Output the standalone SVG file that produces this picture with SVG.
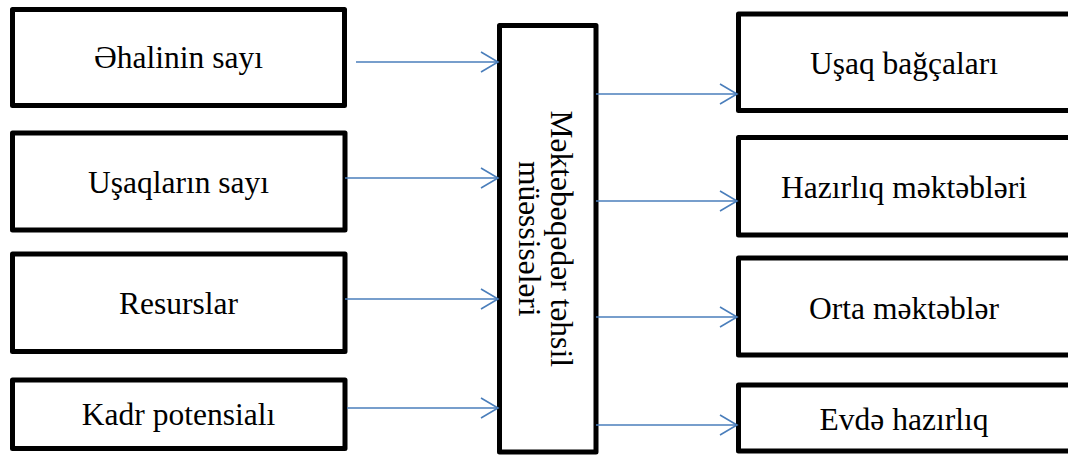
<svg xmlns="http://www.w3.org/2000/svg" width="1068" height="455" viewBox="0 0 1068 455">
<style>
.box{fill:#fff;stroke:#000;stroke-width:5;stroke-linejoin:round}
.lbl{font-family:"Liberation Serif","Times New Roman",serif;font-size:31.5px;fill:#000;text-anchor:middle}
.con{stroke:#4A7EBB;stroke-width:1.6;fill:none;marker-end:url(#arr)}
</style>
<defs>
<marker id="arr" markerUnits="userSpaceOnUse" markerWidth="22" markerHeight="24" viewBox="-19 -12 22 24" refX="0" refY="0" orient="auto" overflow="visible">
<path d="M-17,-10 L0,0 L-17,10" fill="none" stroke="#4A7EBB" stroke-width="1.6"/>
</marker>
</defs>
<rect width="1068" height="455" fill="#fff"/>
<g id="n-ehalinin">
<rect class="box" x="12.5" y="9.5" width="332" height="96"/>
<text class="lbl" x="178.5" y="68">Əhalinin sayı</text>
</g>
<g id="n-usaqlarin">
<rect class="box" x="12.5" y="133" width="332.5" height="97"/>
<text class="lbl" x="178.5" y="192.5">Uşaqların sayı</text>
</g>
<g id="n-resurslar">
<rect class="box" x="12.5" y="254" width="332.5" height="97.5"/>
<text class="lbl" x="178.5" y="314">Resurslar</text>
</g>
<g id="n-kadr">
<rect class="box" x="12.5" y="380" width="332.5" height="68.5"/>
<text class="lbl" x="178.5" y="425">Kadr potensialı</text>
</g>
<g id="n-mektebeqeder">
<rect class="box" x="499.5" y="25.5" width="96.5" height="426.5"/>
<text class="lbl" transform="translate(547.75,238.75) rotate(90)"><tspan x="0" y="-3">Məktəbəqədər təhsil</tspan><tspan x="0" y="29">müəssisələri</tspan></text>
</g>
<g id="n-usaq-bagcalari">
<rect class="box" x="738.5" y="14" width="332" height="96.5"/>
<text class="lbl" x="904" y="74">Uşaq bağçaları</text>
</g>
<g id="n-hazirliq">
<rect class="box" x="738.5" y="137.5" width="332" height="97.5"/>
<text class="lbl" x="904" y="198">Hazırlıq məktəbləri</text>
</g>
<g id="n-orta">
<rect class="box" x="738.5" y="258" width="332" height="97"/>
<text class="lbl" x="904" y="318.5">Orta məktəblər</text>
</g>
<g id="n-evde">
<rect class="box" x="738.5" y="385" width="332" height="66"/>
<text class="lbl" x="904" y="430">Evdə hazırlıq</text>
</g>
<g id="connectors">
<line class="con" x1="356" y1="62" x2="498" y2="62"/>
<line class="con" x1="345" y1="178" x2="498" y2="178"/>
<line class="con" x1="345" y1="299" x2="498" y2="299"/>
<line class="con" x1="347" y1="408" x2="498" y2="408"/>
<line class="con" x1="596" y1="94" x2="737" y2="94"/>
<line class="con" x1="596" y1="201" x2="737" y2="201"/>
<line class="con" x1="596" y1="317" x2="737" y2="317"/>
<line class="con" x1="596" y1="425" x2="737" y2="425"/>
</g>
</svg>
